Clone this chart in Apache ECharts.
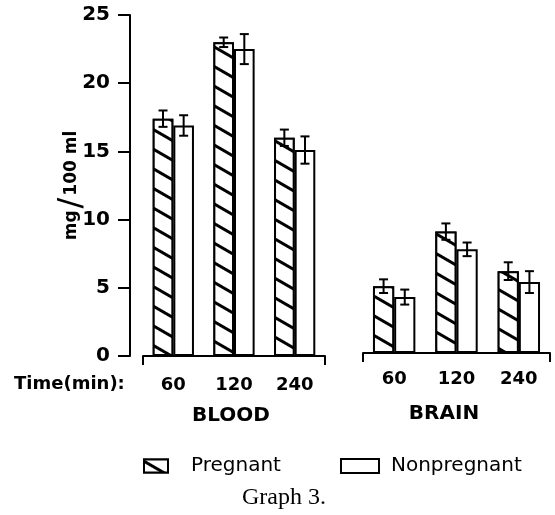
<!DOCTYPE html>
<html>
<head>
<meta charset="utf-8">
<script src="https://cdn.jsdelivr.net/npm/echarts@6/dist/echarts.min.js"></script>
<style>
  html, body { margin: 0; padding: 0; background: #fff; }
  #graph3 { width: 555px; height: 515px; }
</style>
</head>
<body>
<div id="graph3"></div>
<script>
// sampling times (min)
var times = ['60', '120', '240'];

// blood, mg/100 ml, mean and +/- error
var bloodPregnant = [17.4, 23.0, 16.0];
var bloodPregnantErr = [0.6, 0.35, 0.6];
var bloodNonpregnant = [16.9, 22.5, 15.1];
var bloodNonpregnantErr = [0.75, 1.1, 1.0];

// brain, mg/100 ml
var brainPregnant = [4.9, 8.9, 6.0];
var brainPregnantErr = [0.5, 0.6, 0.65];
var brainNonpregnant = [4.1, 7.6, 5.2];
var brainNonpregnantErr = [0.55, 0.5, 0.8];

var yTicks = [0, 5, 10, 15, 20, 25];

var GAP = 0.32;
var labelFont = '"DejaVu Sans", sans-serif';

// [category index, mean, err]
function errData(means, errs) {
    return means.map(function (m, i) { return [i, m, errs[i]]; });
}

// side = -1 for left bar of the pair, +1 for right
function errRenderer(side) {
    return function (params, api) {
        var i = api.value(0);
        var mid = api.coord([i, api.value(1)]);
        var band = api.size([1, 0])[0];
        var bw = band * (1 - GAP) / 2;
        var x = mid[0] + side * bw / 2;
        var top = api.coord([i, api.value(1) + api.value(2)])[1];
        var bot = api.coord([i, api.value(1) - api.value(2)])[1];
        var cap = 4.5;
        var st = { stroke: '#000', lineWidth: 2 };
        return {
            type: 'group',
            children: [
                { type: 'line', shape: { x1: x, y1: top, x2: x, y2: bot }, style: st },
                { type: 'line', shape: { x1: x - cap, y1: top, x2: x + cap, y2: top }, style: st },
                { type: 'line', shape: { x1: x - cap, y1: bot, x2: x + cap, y2: bot }, style: st }
            ]
        };
    };
}

// diagonal hatching for the pregnant bars
var hatch = {
    symbol: 'rect',
    symbolSize: 1,
    color: '#000',
    backgroundColor: '#fff',
    dashArrayX: [1, 0],
    dashArrayY: [3, 14],
    rotation: Math.PI / 6
};

function barSeries(name, data, idx, pregnant) {
    var style = {
        color: '#fff',
        borderColor: '#000',
        borderWidth: 2
    };
    if (pregnant) style.decal = hatch;
    return {
        name: name,
        type: 'bar',
        xAxisIndex: idx,
        yAxisIndex: idx,
        data: data,
        barGap: 0,
        barCategoryGap: (GAP * 100) + '%',
        itemStyle: style,
        emphasis: { disabled: true },
        z: 2
    };
}

function errSeries(means, errs, idx, side) {
    return {
        type: 'custom',
        coordinateSystem: 'cartesian2d',
        xAxisIndex: idx,
        yAxisIndex: idx,
        data: errData(means, errs),
        renderItem: errRenderer(side),
        silent: true,
        z: 5
    };
}

function catAxis(idx, margin) {
    return {
        type: 'category',
        gridIndex: idx,
        data: times,
        axisLine: { show: true, lineStyle: { color: '#000', width: 2 } },
        axisTick: {
            show: true,
            length: 9,
            interval: function (i) { return i === 0; },
            lineStyle: { color: '#000', width: 2 }
        },
        axisLabel: {
            color: '#000',
            fontSize: 18,
            fontWeight: 'bold',
            fontFamily: labelFont,
            margin: margin
        }
    };
}

var chart = echarts.init(document.getElementById('graph3'), null, { renderer: 'canvas' });

chart.setOption({
    backgroundColor: '#fff',
    animation: false,
    title: [
        { text: 'Time(min):', left: 14, top: 375, padding: 0,
          textStyle: { fontSize: 18, fontWeight: 'bold', fontFamily: labelFont, color: '#000' } },
        { text: 'BLOOD', left: 231, top: 406, padding: 0, textAlign: 'center',
          textStyle: { fontSize: 20, fontWeight: 'bold', fontFamily: labelFont, color: '#000' } },
        { text: 'BRAIN', left: 444, top: 404, padding: 0, textAlign: 'center',
          textStyle: { fontSize: 20, fontWeight: 'bold', fontFamily: labelFont, color: '#000' } },
        { text: 'Graph 3.', left: 284, top: 486, padding: 0, textAlign: 'center',
          textStyle: { fontSize: 24, fontWeight: 'normal', fontFamily: '"Liberation Serif", serif', color: '#000' } }
    ],
    legend: [
        {
            data: ['Pregnant'], left: 143, top: 456, padding: 0,
            itemWidth: 24, itemHeight: 13, icon: 'rect', selectedMode: false,
            itemStyle: { borderColor: '#000', borderWidth: 2 },
            textStyle: { fontSize: 20, fontFamily: labelFont, color: '#000', padding: [0, 0, 0, 18] }
        },
        {
            data: ['Nonpregnant'], left: 340, top: 456, padding: 0,
            itemWidth: 38, itemHeight: 14, icon: 'rect', selectedMode: false,
            itemStyle: { borderColor: '#000', borderWidth: 2 },
            textStyle: { fontSize: 20, fontFamily: labelFont, color: '#000', padding: [0, 0, 0, 7] }
        }
    ],
    grid: [
        { left: 143, top: 15, width: 182, height: 341, outerBoundsMode: 'none' },
        { left: 363, top: 12, width: 187, height: 341, outerBoundsMode: 'none' }
    ],
    xAxis: [catAxis(0, 20), catAxis(1, 17)],
    yAxis: [
        {
            type: 'value',
            gridIndex: 0,
            min: yTicks[0],
            max: yTicks[yTicks.length - 1],
            interval: yTicks[1] - yTicks[0],
            offset: 13,
            name: '{t|mg}{s|/}{t|100 ml}',
            nameLocation: 'middle',
            nameGap: 42,
            nameMoveOverlap: false,
            nameTextStyle: {
                color: '#000',
                rich: {
                    t: { fontSize: 17, fontWeight: 'bold', fontFamily: labelFont, color: '#000' },
                    s: { fontSize: 32, fontWeight: 'normal', fontFamily: labelFont, color: '#000', padding: [0, 2] }
                }
            },
            splitLine: { show: false },
            axisLine: { show: true, lineStyle: { color: '#000', width: 2 } },
            axisTick: { show: true, length: 12, lineStyle: { color: '#000', width: 2 } },
            axisLabel: {
                color: '#000',
                fontSize: 20,
                fontWeight: 'bold',
                fontFamily: labelFont,
                margin: 20
            }
        },
        {
            type: 'value',
            gridIndex: 1,
            min: yTicks[0],
            max: yTicks[yTicks.length - 1],
            show: false,
            splitLine: { show: false }
        }
    ],
    series: [
        barSeries('Pregnant', bloodPregnant, 0, true),
        barSeries('Nonpregnant', bloodNonpregnant, 0, false),
        barSeries('Pregnant', brainPregnant, 1, true),
        barSeries('Nonpregnant', brainNonpregnant, 1, false),
        errSeries(bloodPregnant, bloodPregnantErr, 0, -1),
        errSeries(bloodNonpregnant, bloodNonpregnantErr, 0, 1),
        errSeries(brainPregnant, brainPregnantErr, 1, -1),
        errSeries(brainNonpregnant, brainNonpregnantErr, 1, 1)
    ]
});
</script>
</body>
</html>
